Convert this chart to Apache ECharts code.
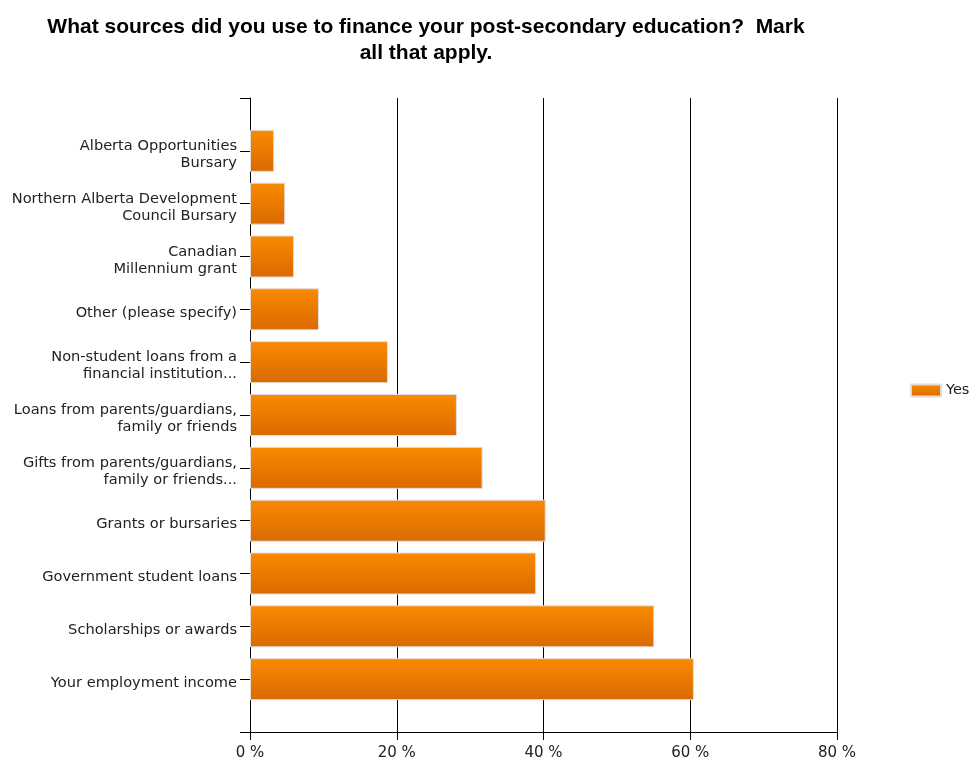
<!DOCTYPE html>
<html>
<head>
<meta charset="utf-8">
<script src="https://cdn.jsdelivr.net/npm/echarts@6/dist/echarts.min.js"></script>
<style>
  html, body { margin: 0; padding: 0; background: #fff; }
  #chart { width: 976px; height: 761px; }
</style>
</head>
<body>
<div id="chart"></div>
<script>
// Funding sources, listed top to bottom
const categories = [
  'Alberta Opportunities\nBursary',
  'Northern Alberta Development\nCouncil Bursary',
  'Canadian\nMillennium grant',
  'Other (please specify)',
  'Non-student loans from a\nfinancial institution...',
  'Loans from parents/guardians,\nfamily or friends',
  'Gifts from parents/guardians,\nfamily or friends...',
  'Grants or bursaries',
  'Government student loans',
  'Scholarships or awards',
  'Your employment income'
];
// Share of respondents (%) answering "Yes"
const yesValues = [3.3, 4.8, 6.0, 9.4, 18.8, 28.2, 31.7, 40.3, 39.0, 55.1, 60.5];
const xTicks = [0, 20, 40, 60, 80];

// Empty slots at both ends leave a half-band of space above and below the bars
const yCats = [''].concat(categories, ['']);
const yData = [null].concat(yesValues, [null]);

// Category labels sit a little below their tick: a short spacer line on top
function categoryLabel(v) {
  if (!v) return '';
  return '{s| }\n' + v.split('\n').map(function (line) { return '{t|' + line + '}'; }).join('\n');
}

const chart = echarts.init(document.getElementById('chart'));
chart.setOption({
  animation: false,
  backgroundColor: '#ffffff',
  title: {
    text: 'What sources did you use to finance your post-secondary education?  Mark\nall that apply.',
    left: 421,
    top: 9,
    textAlign: 'center',
    textStyle: {
      fontFamily: 'Liberation Sans',
      fontWeight: 'bold',
      fontSize: 21,
      lineHeight: 26,
      color: '#000'
    }
  },
  legend: {
    data: ['Yes'],
    left: 910,
    top: 383,
    padding: 0,
    orient: 'vertical',
    itemWidth: 30,
    itemHeight: 12,
    itemGap: 6,
    icon: 'rect',
    textStyle: { fontFamily: 'DejaVu Sans', fontSize: 14.5, color: '#222' }
  },
  grid: { left: 250, right: 139, top: 98, bottom: 28, containLabel: false },
  xAxis: {
    type: 'value',
    min: xTicks[0],
    max: xTicks[xTicks.length - 1],
    interval: 20,
    axisLine: { show: true, lineStyle: { color: '#000', width: 1 } },
    axisTick: { show: true, length: 8, lineStyle: { color: '#000' } },
    splitLine: { show: true, lineStyle: { color: '#000', width: 1 } },
    axisLabel: {
      formatter: '{value} %',
      fontFamily: 'DejaVu Sans',
      fontSize: 15,
      color: '#222',
      margin: 14
    }
  },
  yAxis: {
    type: 'category',
    inverse: true,
    boundaryGap: false,
    data: yCats,
    axisLine: { show: true, lineStyle: { color: '#000', width: 1 } },
    axisTick: { show: true, length: 10, lineStyle: { color: '#000' } },
    splitLine: { show: false },
    axisLabel: {
      formatter: categoryLabel,
      margin: 13,
      align: 'right',
      rich: {
        s: { fontSize: 6, lineHeight: 8 },
        t: {
          fontFamily: 'DejaVu Sans',
          fontSize: 14.6,
          lineHeight: 17,
          color: '#222',
          align: 'right'
        }
      }
    }
  },
  series: [{
    name: 'Yes',
    type: 'bar',
    data: yData,
    barWidth: 42,
    itemStyle: {
      color: new echarts.graphic.LinearGradient(0, 0, 0, 1, [
        { offset: 0, color: '#fa8a00' },
        { offset: 1, color: '#d96a00' }
      ]),
      borderColor: '#e2ddd8',
      borderWidth: 1
    }
  }]
});
</script>
</body>
</html>
